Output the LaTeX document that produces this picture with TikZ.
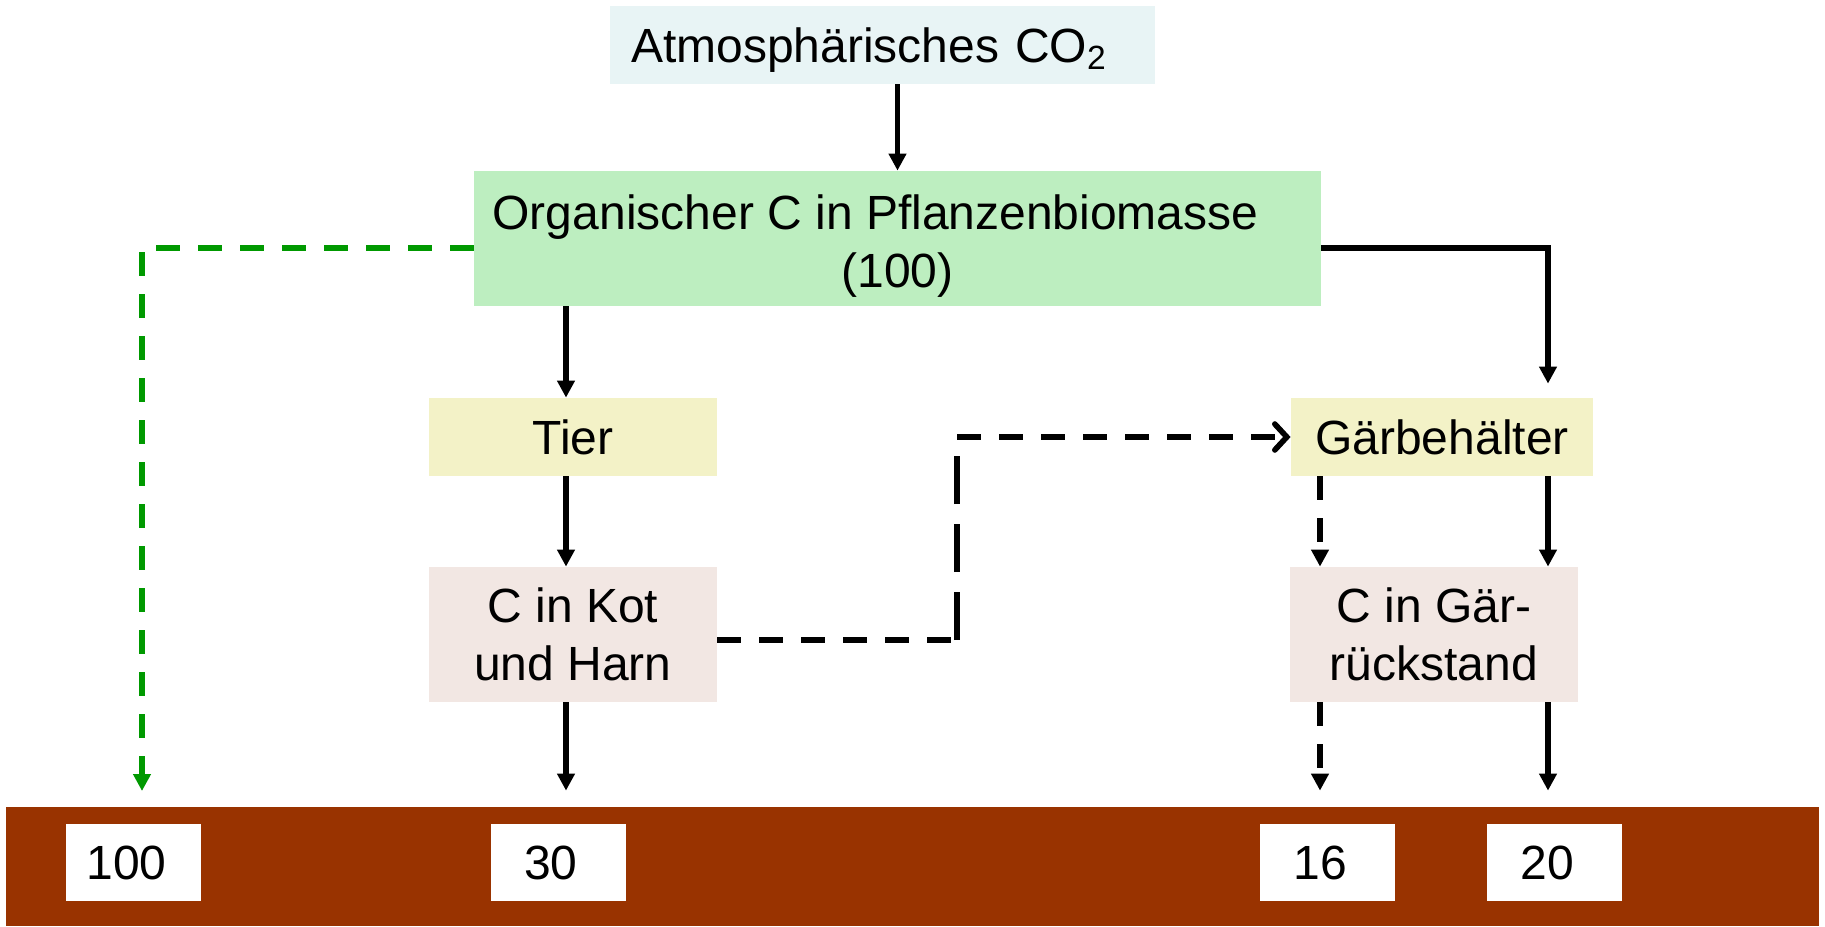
\documentclass[tikz,border=0pt]{standalone}
\usepackage{fontspec}
\setmainfont{Liberation Sans}
\usetikzlibrary{arrows.meta,positioning,calc}
\definecolor{atmosblue}{HTML}{E8F4F5}
\definecolor{plantgreen}{HTML}{BDEEC0}
\definecolor{tieryellow}{HTML}{F3F2C7}
\definecolor{kotrose}{HTML}{F2E7E3}
\definecolor{soilbrown}{HTML}{993300}
\definecolor{flowgreen}{HTML}{009900}

\begin{document}
\begin{tikzpicture}[x=0.5pt,y=-0.5pt,
    box/.style={inner sep=0pt,align=center,font=\fontsize{24}{29}\selectfont},
    numbox/.style={box,fill=white,minimum width=67.5pt,minimum height=38.5pt,execute at begin node={\hspace*{-7pt}}},
    flow/.style={line width=2.8pt,-{Triangle[width=8.5pt,length=8.5pt]}},
    dashflow/.style={flow,dash pattern=on 12pt off 9pt},
    longdash/.style={line width=2.8pt,dash pattern=on 24pt off 10pt}]
    \useasboundingbox (0,0) rectangle (1825,926);
    % soil with values
    \node[fill=soilbrown,minimum width=906.5pt,minimum height=59.5pt,inner sep=0pt] (soil) at (912.5,866.5) {};
    \node[numbox] (n100) at (133.5,862.5) {100};
    \node[numbox] (n30) at (558,862.5) {30};
    \node[numbox] (n16) at (1327.5,862.5) {16};
    \node[numbox] (n20) at (1554.5,862.5) {20};
    % nodes
    \node[box,fill=atmosblue,minimum width=272.5pt,minimum height=39pt,text width=251.5pt,align=left] (atmos) at (882.5,45) {\rule{0pt}{22.5pt}Atmosphärisches CO\textsubscript{2}};
    \node[box,fill=plantgreen,minimum width=423.5pt,minimum height=67.5pt] (org) at (897.5,238.5) {\rule{0pt}{24.5pt}Organischer C in Pflanzenbiomasse\hspace*{22pt}\\(100)};
    \node[box,fill=tieryellow,minimum width=144pt,minimum height=39pt] (tier) at (573,437) {Tier};
    \node[box,fill=kotrose,minimum width=144pt,minimum height=67.5pt] (kot) at (573,634.5) {C in Kot\\und Harn};
    \node[box,fill=tieryellow,minimum width=151pt,minimum height=39pt] (gaerb) at (1442,437) {Gärbehälter};
    \node[box,fill=kotrose,minimum width=144pt,minimum height=67.5pt] (gaer) at (1434,634.5) {C in Gär-\\rückstand};
    % guide coordinates
    \coordinate (gend) at (142,791);
    \coordinate (kx) at (566,0);
    \coordinate (kvert) at (957,437);
    \coordinate (gl) at (1320,0);
    \coordinate (gr) at (1548,0);
    % connectors
    \draw[flow] (org.north |- atmos.south) -- (org.north);
    \draw[dashflow,flowgreen] ([yshift=-4.75pt]org.west) -| (gend);
    \draw[flow,shorten >=7pt] ([yshift=-4.75pt]org.east) -| (gaerb.north -| gr);
    \draw[flow] (org.south -| kx) -- (tier.north -| kx);
    \draw[flow] (tier.south -| kx) -- (kot.north -| kx);
    \draw[flow,shorten >=8pt] (kot.south -| kx) -- (soil.north -| kx);
    \draw[dashflow,-] ([yshift=-2.75pt]kot.east) -- ([yshift=-2.75pt]kot.east -| kvert);
    \draw[longdash] ([yshift=-2.75pt]kot.east -| kvert) -- (kvert);
    \draw[line width=2.8pt,dash pattern=on 12pt off 9pt,-{Straight Barb[width=13pt,length=6pt,line cap=round]}] (kvert) -- (gaerb.west);
    \draw[dashflow] (gaerb.south -| gl) -- (gaer.north -| gl);
    \draw[flow] (gaerb.south -| gr) -- (gaer.north -| gr);
    \draw[dashflow,shorten >=8pt] (gaer.south -| gl) -- (soil.north -| gl);
    \draw[flow,shorten >=8pt] (gaer.south -| gr) -- (soil.north -| gr);
\end{tikzpicture}
\end{document}
